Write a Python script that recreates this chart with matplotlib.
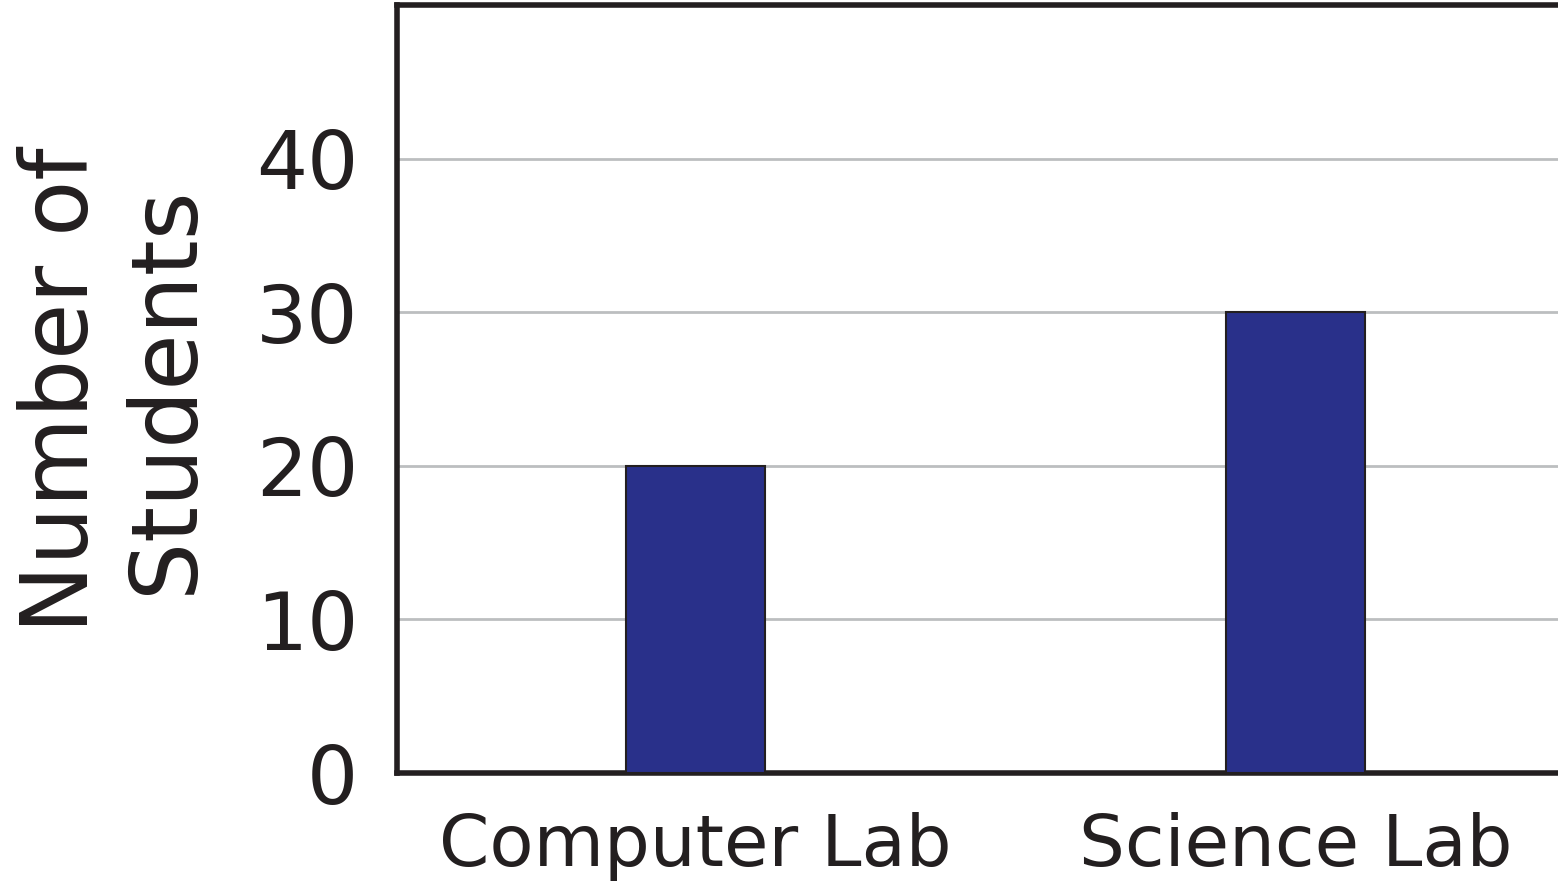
import matplotlib
matplotlib.use("Agg")
import matplotlib.pyplot as plt

# data
labs = ["Computer Lab", "Science Lab"]
students = [20, 30]
yticks = [0, 10, 20, 30, 40]

bar_color = "#29308a"
dark = "#231f20"
grid_color = "#bcbec0"

fig = plt.figure(figsize=(15.58, 8.96), dpi=100)
ax = fig.add_axes([397 / 1558, 1 - 773 / 896, 1 - 397 / 1558, (773 - 5) / 896])

x = list(range(len(labs)))
ax.bar(x, students, width=0.232, color=bar_color, edgecolor=dark, linewidth=1.5, zorder=3)

ax.set_xlim(-0.498, 1.437)
ax.set_ylim(0, 50)
ax.set_xticks(x)
ax.set_xticklabels(labs, fontsize=52, color=dark)
ax.set_yticks(yticks)
ax.set_yticklabels([str(t) for t in yticks], fontsize=58, color=dark)
ax.tick_params(axis="x", length=0, pad=28)
ax.tick_params(axis="y", length=0, pad=28)

ax.yaxis.grid(True, color=grid_color, linewidth=2)
ax.set_axisbelow(True)

for side in ["left", "bottom", "top"]:
    ax.spines[side].set_color(dark)
    ax.spines[side].set_linewidth(4)
ax.spines["right"].set_visible(False)

fig.text(114 / 1558, 1 - 390 / 896, "Number of\nStudents", rotation=90,
         ha="center", va="center", multialignment="center",
         fontsize=66, color=dark, linespacing=1.2)

fig.savefig("out.png", dpi=100)
